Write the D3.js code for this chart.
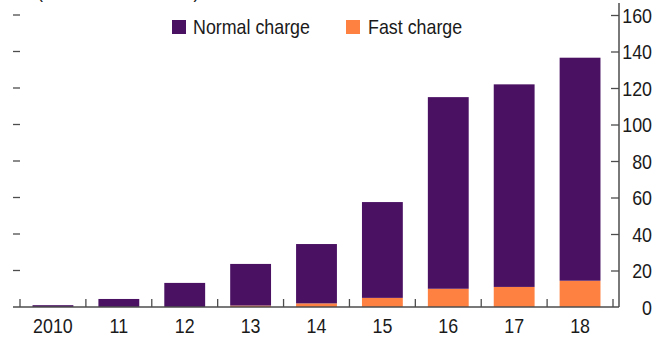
<!DOCTYPE html>
<html>
<head>
<meta charset="utf-8">
<script src="https://cdn.jsdelivr.net/npm/d3@7"></script>
<style>
  html, body { margin: 0; padding: 0; background: #fff; }
  svg { display: block; }
  text { font-family: "Liberation Sans", Arial, sans-serif; fill: #1a1a1a; }
</style>
</head>
<body>
<svg id="chart" width="663" height="339"></svg>
<script>
// Charging points by year (thousands), stacked: fast charge at the base, normal charge on top
const years = ["2010", "11", "12", "13", "14", "15", "16", "17", "18"];
const fastCharge = [0, 0, 0, 0.8, 2, 5, 10, 11, 14.4];
const normalCharge = [1, 4.4, 13.2, 22.8, 32.5, 52.5, 105, 111, 122.2];
const yTicks = [0, 20, 40, 60, 80, 100, 120, 140, 160];
const seriesNames = ["Fast charge", "Normal charge"];
const colors = { "Normal charge": "#4a1163", "Fast charge": "#fe8141" };

const svg = d3.select("#chart");
const plotLeft = 20, plotRight = 613, axisX = 619, base = 307, plotTop = 15;
const fontSize = 21, narrow = 0.85;   // condensed look: regular face squeezed horizontally

const x = d3.scaleBand().domain(years).range([plotLeft, plotRight]).paddingInner(0.38).paddingOuter(0.19);
const y = d3.scaleLinear().domain([0, 160]).range([base, plotTop]);

const rows = years.map((yr, i) => ({ year: yr, "Fast charge": fastCharge[i], "Normal charge": normalCharge[i] }));
const stacked = d3.stack().keys(seriesNames)(rows);

function narrowText(sel, tx, ty) {
  return sel.attr("x", 0).attr("y", 0).attr("font-size", fontSize)
    .attr("transform", (d, i) => `translate(${typeof tx === "function" ? tx(d, i) : tx},${typeof ty === "function" ? ty(d, i) : ty}) scale(${narrow},1)`);
}

// Unit label at the top of the panel
narrowText(svg.append("text"), 37, -2).text("(Thousands of units)");

// Bars
svg.append("g").selectAll("g").data(stacked).join("g")
  .attr("fill", d => colors[d.key])
  .selectAll("rect").data(d => d).join("rect")
  .attr("x", d => x(d.data.year))
  .attr("width", x.bandwidth())
  .attr("y", d => y(d[1]))
  .attr("height", d => Math.max(0, y(d[0]) - y(d[1])));

const axisColor = "#4d4d4d";

// Left tick dashes
svg.append("g").selectAll("line").data(yTicks.filter(v => v > 0)).join("line")
  .attr("x1", 13).attr("x2", 20)
  .attr("y1", d => y(d)).attr("y2", d => y(d))
  .attr("stroke", axisColor).attr("stroke-width", 1.3);

// Right value axis
const yAxis = d3.axisRight(y).tickValues(yTicks).tickSizeInner(-8).tickSizeOuter(0).tickPadding(0);
const ga = svg.append("g").attr("transform", `translate(${axisX},0)`).call(yAxis);
ga.select(".domain").remove();
ga.selectAll(".tick line").attr("stroke", axisColor).attr("stroke-width", 1.3)
  .filter(d => d === 0).remove();
ga.selectAll(".tick text").attr("text-anchor", "end").attr("fill", "#1a1a1a").attr("font-family", null)
  .call(s => narrowText(s, 33, 0)).attr("dy", "0.35em");
svg.append("line").attr("x1", axisX).attr("x2", axisX).attr("y1", 3).attr("y2", base)
  .attr("stroke", axisColor).attr("stroke-width", 1.5);

// Baseline with category separators
svg.append("line").attr("x1", 13).attr("x2", axisX).attr("y1", base).attr("y2", base)
  .attr("stroke", axisColor).attr("stroke-width", 1.5);
const step = x.step();
svg.append("g").selectAll("line").data(d3.range(years.length + 1)).join("line")
  .attr("x1", i => plotLeft + i * step).attr("x2", i => plotLeft + i * step)
  .attr("y1", base - 8).attr("y2", base)
  .attr("stroke", axisColor).attr("stroke-width", 1.3);

// Category labels
svg.append("g").selectAll("text").data(years).join("text")
  .attr("text-anchor", "middle")
  .call(s => narrowText(s, d => x(d) + x.bandwidth() / 2, 333))
  .text(d => d);

// Legend
const legend = [
  { name: "Normal charge", sx: 172, tx: 193 },
  { name: "Fast charge", sx: 346, tx: 368 }
];
const lg = svg.append("g").selectAll("g").data(legend).join("g");
lg.append("rect").attr("x", d => d.sx).attr("y", 20).attr("width", 14).attr("height", 14)
  .attr("fill", d => colors[d.name]);
lg.append("text").call(s => narrowText(s, d => d.tx, 34)).text(d => d.name);
</script>
</body>
</html>
